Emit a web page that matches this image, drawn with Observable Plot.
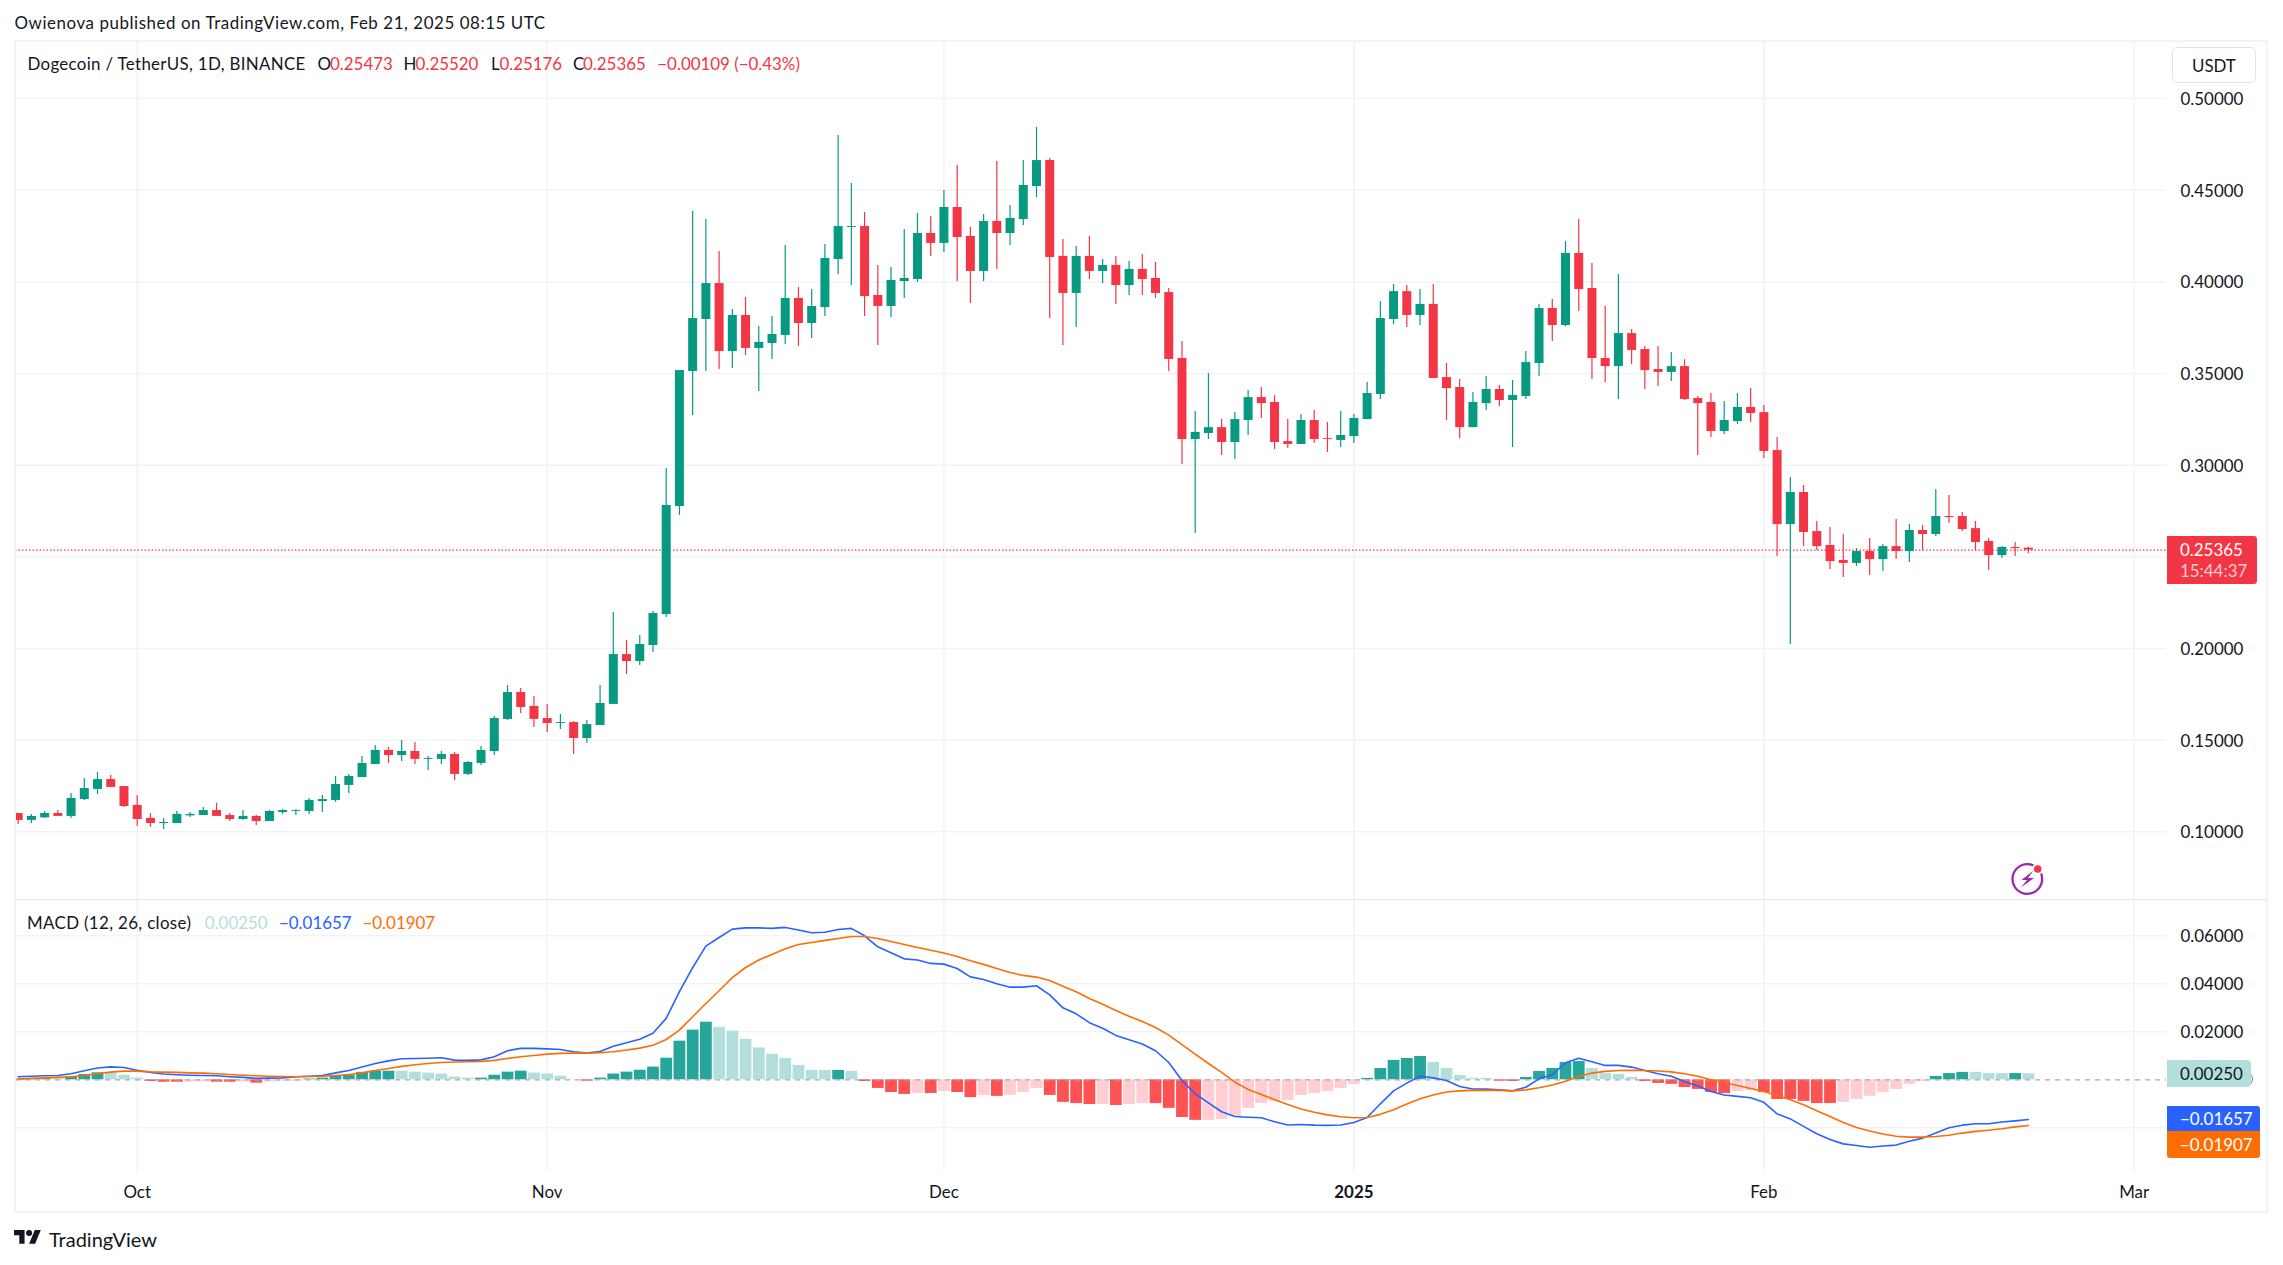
<!DOCTYPE html>
<html>
<head>
<meta charset="utf-8">
<script src="https://cdn.jsdelivr.net/npm/d3@7"></script>
<script src="https://cdn.jsdelivr.net/npm/@observablehq/plot@0.6"></script>
<style>
html,body{margin:0;padding:0;background:#fff;width:2283px;height:1265px;overflow:hidden;font-family:Lato,"Noto Sans",sans-serif;}
svg{position:absolute;background:transparent;}
.t{position:absolute;white-space:pre;transform:translateY(-50%);line-height:1;font-size:16.9px;color:#131722;}
.box{position:absolute;box-sizing:border-box;}
</style>
</head>
<body>
<script>
const startDate = Date.UTC(2024, 8, 22);
const opens = [
.1100,.1062,.1076,.1100,.1084,.1176,.1231,.1285,.1247,.1144,
.1073,.1045,.1045,.1087,.1089,.1116,.1089,.1067,.1084,.1056,
.1105,.1111,.1111,.1165,.1171,.1253,.1296,.1367,.1444,.1416,
.1438,.1395,.1395,.1422,.1313,.1373,.1438,.1613,.1760,.1684,
.1618,.1591,.1596,.1509,.1580,.1695,.1967,.1929,.2016,.2185,
.2775,.3511,.3795,.3991,.3620,.3817,.3637,.3664,.3708,.3910,
.3773,.3860,.4122,.4297,.4302,.3926,.3866,.4002,.4013,.4264,
.4210,.4406,.4248,.4057,.4330,.4264,.4340,.4520,.4662,.4139,
.3937,.4139,.4057,.4090,.3980,.4068,.4019,.3942,.3582,.3140,
.3173,.3205,.3124,.3244,.3369,.3342,.3129,.3113,.3244,.3145,
.3135,.3156,.3249,.3386,.3795,.3947,.3817,.3877,.3478,.3424,
.3205,.3336,.3413,.3353,.3375,.3555,.3855,.3762,.4155,.3964,
.3582,.3538,.3718,.3631,.3522,.3506,.3538,.3364,.3342,.3184,
.3238,.3315,.3287,.3080,.2676,.2851,.2638,.2562,.2480,.2464,
.2529,.2485,.2556,.2529,.2644,.2622,.2720,.2720,.2654,.2584,
.2507,.2551,.25473];
const highs = [
.1100,.1095,.1111,.1116,.1209,.1291,.1324,.1307,.1247,.1198,
.1100,.1073,.1111,.1105,.1133,.1155,.1100,.1116,.1089,.1116,
.1122,.1120,.1182,.1198,.1302,.1313,.1411,.1471,.1460,.1498,
.1487,.1411,.1438,.1433,.1384,.1465,.1629,.1798,.1782,.1738,
.1695,.1640,.1602,.1607,.1798,.2197,.2044,.2071,.2202,.2982,
.3516,.4384,.4340,.4166,.3849,.3915,.3757,.3811,.4199,.3970,
.3959,.4204,.4799,.4537,.4379,.4090,.4079,.4286,.4373,.4357,
.4499,.4635,.4297,.4368,.4657,.4417,.4662,.4842,.4673,.4231,
.4193,.4248,.4122,.4139,.4111,.4150,.4106,.3964,.3675,.3293,
.3500,.3249,.3287,.3407,.3424,.3380,.3249,.3276,.3298,.3233,
.3293,.3276,.3451,.3893,.3986,.3980,.3958,.3986,.3555,.3467,
.3396,.3484,.3435,.3462,.3620,.3877,.3904,.4220,.4340,.4100,
.3866,.4040,.3740,.3647,.3647,.3615,.3576,.3375,.3391,.3347,
.3391,.3418,.3326,.3151,.2933,.2889,.2693,.2660,.2622,.2545,
.2600,.2567,.2704,.2676,.2671,.2867,.2835,.2742,.2693,.2600,
.2556,.2578,.25520];
const lows = [
.1040,.1045,.1073,.1084,.1073,.1171,.1204,.1242,.1133,.1029,
.1024,.1013,.1045,.1078,.1089,.1084,.1056,.1062,.1035,.1056,
.1095,.1089,.1095,.1105,.1160,.1209,.1296,.1367,.1373,.1384,
.1367,.1335,.1367,.1280,.1307,.1362,.1416,.1607,.1646,.1569,
.1542,.1558,.1422,.1482,.1580,.1695,.1858,.1907,.1978,.2169,
.2726,.3271,.3511,.3522,.3528,.3598,.3402,.3577,.3659,.3648,
.3691,.3811,.4040,.3980,.3811,.3653,.3806,.3910,.3997,.4139,
.4161,.4002,.3882,.4002,.4068,.4199,.4308,.4460,.3800,.3653,
.3751,.4013,.3991,.3877,.3926,.3926,.3910,.3511,.3004,.2627,
.3140,.3053,.3031,.3162,.3255,.3085,.3091,.3113,.3118,.3069,
.3096,.3118,.3249,.3358,.3767,.3751,.3762,.3473,.3244,.3145,
.3205,.3298,.3320,.3096,.3358,.3484,.3675,.3756,.3838,.3467,
.3451,.3358,.3549,.3413,.3429,.3456,.3353,.3053,.3151,.3167,
.3222,.3233,.3036,.2502,.2022,.2556,.2534,.2431,.2387,.2447,
.2398,.2420,.2485,.2469,.2534,.2611,.2682,.2638,.2534,.2425,
.2491,.2502,.25176];
const closes = [
.1062,.1084,.1100,.1084,.1182,.1236,.1285,.1242,.1138,.1067,
.1045,.1051,.1095,.1095,.1116,.1084,.1067,.1084,.1056,.1111,
.1116,.1116,.1171,.1176,.1258,.1302,.1373,.1444,.1416,.1438,
.1395,.1400,.1422,.1313,.1378,.1444,.1618,.1760,.1678,.1613,
.1591,.1596,.1509,.1585,.1700,.1967,.1929,.2022,.2191,.2780,
.3516,.3800,.3991,.3620,.3817,.3637,.3670,.3713,.3910,.3773,
.3866,.4128,.4302,.4302,.3920,.3866,.4008,.4019,.4264,.4210,
.4406,.4242,.4057,.4330,.4264,.4346,.4526,.4662,.4133,.3937,
.4139,.4057,.4090,.3980,.4068,.4013,.3937,.3577,.3140,.3179,
.3205,.3124,.3249,.3369,.3336,.3124,.3113,.3244,.3140,.3140,
.3162,.3255,.3391,.3800,.3947,.3817,.3877,.3473,.3418,.3205,
.3342,.3413,.3353,.3380,.3560,.3855,.3762,.4155,.3958,.3582,
.3538,.3718,.3626,.3516,.3506,.3538,.3358,.3336,.3184,.3244,
.3315,.3282,.3075,.2676,.2851,.2633,.2556,.2474,.2464,.2529,
.2485,.2556,.2529,.2644,.2622,.2720,.2714,.2649,.2578,.2507,
.2551,.2545,.25365];
const histValues = [
.0003,.0004,.0005,.0004,.0012,.0022,.0029,.0026,.0019,.0007,
-.0007,-.0010,-.0010,-.0010,-.0009,-.0010,-.0010,-.0009,-.0014,-.0009,
-.0006,-.0006,.0003,.0007,.0015,.0019,.0031,.0036,.0036,.0036,
.0032,.0028,.0024,.0011,.0007,.0007,.0019,.0032,.0036,.0028,
.0024,.0015,.0001,-.0006,.0007,.0024,.0032,.0040,.0053,.0090,
.0161,.0207,.0240,.0219,.0203,.0169,.0133,.0106,.0089,.0060,
.0039,.0039,.0039,.0035,-.0007,-.0036,-.0053,-.0061,-.0057,-.0057,
-.0049,-.0053,-.0074,-.0065,-.0069,-.0065,-.0053,-.0036,-.0065,-.0094,
-.0099,-.0103,-.0103,-.0107,-.0103,-.0099,-.0099,-.0119,-.0157,-.0169,
-.0169,-.0165,-.0153,-.0119,-.0099,-.0090,-.0086,-.0065,-.0057,-.0049,
-.0036,-.0019,.0006,.0047,.0081,.0089,.0097,.0072,.0047,.0018,
.0006,.0006,-.0006,-.0007,.0010,.0035,.0047,.0072,.0076,.0047,
.0026,.0022,.0010,-.0007,-.0015,-.0019,-.0032,-.0040,-.0053,-.0057,
-.0049,-.0044,-.0053,-.0082,-.0082,-.0090,-.0099,-.0099,-.0094,-.0082,
-.0069,-.0053,-.0040,-.0019,-.0007,.0014,.0026,.0031,.0031,.0026,
.0026,.0026,.00250];
const histKinds = "DDDLDDDLLLRRRPPRRPRPPPDDDDDDDLLLLLLDDDDLLLLRDDDDDDDDDLLLLLLLLLDLRRRRPRPRRPRPPPRRRRPRPPRRRRPPPPPPPPPPPPDDDDDLLLLLRRDDDDDLLLLRRRRRRRPPRRRRRRPPPPPPPDDDLLLDL";
const macdValues = [
.0013,.0015,.0017,.0018,.0025,.0038,.0049,.0054,.0051,.0040,
.0031,.0024,.0021,.0019,.0018,.0017,.0013,.0010,.0006,.0007,
.0008,.0013,.0015,.0018,.0029,.0039,.0053,.0068,.0079,.0088,
.0089,.0090,.0092,.0082,.0081,.0083,.0096,.0121,.0131,.0131,
.0129,.0126,.0117,.0111,.0118,.0140,.0154,.0169,.0194,.0256,
.0367,.0467,.0557,.0593,.0628,.0633,.0633,.0631,.0635,.0624,
.0613,.0615,.0626,.0631,.0600,.0554,.0529,.0504,.0499,.0485,
.0482,.0464,.0429,.0418,.0400,.0386,.0386,.0392,.0354,.0300,
.0275,.0238,.0215,.0185,.0167,.0149,.0121,.0072,-.0003,-.0058,
-.0096,-.0133,-.0153,-.0156,-.0158,-.0175,-.0188,-.0186,-.0189,-.0190,
-.0188,-.0178,-.0157,-.0100,-.0046,-.0014,.0015,.0008,-.0003,-.0028,
-.0038,-.0039,-.0042,-.0046,-.0031,.0004,.0021,.0071,.0090,.0075,
.0060,.0060,.0053,.0039,.0025,.0015,-.0007,-.0026,-.0049,-.0063,
-.0069,-.0075,-.0094,-.0142,-.0163,-.0194,-.0225,-.0249,-.0267,-.0274,
-.0281,-.0276,-.0272,-.0256,-.0243,-.0222,-.0200,-.0189,-.0183,-.0183,
-.0176,-.0171,-.01657];
const signalValues = [
.0003,.0006,.0008,.0010,.0013,.0018,.0026,.0032,.0036,.0036,
.0033,.0032,.0031,.0029,.0028,.0025,.0022,.0019,.0017,.0015,
.0014,.0013,.0014,.0015,.0018,.0022,.0029,.0039,.0047,.0056,
.0063,.0068,.0072,.0074,.0075,.0076,.0081,.0089,.0096,.0101,
.0107,.0110,.0111,.0111,.0113,.0117,.0124,.0132,.0144,.0168,
.0207,.0263,.0318,.0371,.0426,.0468,.0499,.0522,.0546,.0564,
.0572,.0581,.0589,.0597,.0597,.0589,.0576,.0564,.0551,.0540,
.0528,.0514,.0496,.0481,.0464,.0447,.0435,.0428,.0414,.0390,
.0367,.0339,.0315,.0289,.0265,.0243,.0218,.0186,.0147,.0107,
.0068,.0031,-.0010,-.0040,-.0061,-.0083,-.0103,-.0122,-.0135,-.0146,
-.0154,-.0158,-.0157,-.0144,-.0125,-.0101,-.0079,-.0063,-.0051,-.0046,
-.0044,-.0043,-.0044,-.0046,-.0042,-.0033,-.0022,-.0006,.0014,.0028,
.0035,.0039,.0040,.0039,.0037,.0033,.0025,.0015,.0000,-.0011,
-.0024,-.0036,-.0049,-.0065,-.0083,-.0104,-.0129,-.0153,-.0178,-.0199,
-.0213,-.0226,-.0235,-.0239,-.0239,-.0236,-.0231,-.0222,-.0215,-.0210,
-.0204,-.0196,-.01907];
const priceTicks = [.10,.15,.20,.30,.35,.40,.45,.50];
const priceGridTicks = [.10,.15,.20,.25,.30,.35,.40,.45,.50];
const macdTicks = [.06,.04,.02];
const macdGridTicks = [.06,.04,.02,-.02];
const lastPrice = .25365;
const monthLabels = [["2024-10-01","Oct"],["2024-11-01","Nov"],["2024-12-01","Dec"],["2025-02-01","Feb"],["2025-03-01","Mar"]];
const yearLabels = [["2025-01-01","2025"]];

const GREEN="#089981", RED="#F23645", GRID="#f1f3f7", INK="#131722", FONT='Lato,"Noto Sans",sans-serif';
const histColors={D:"#26A69A",L:"#B2DFDB",R:"#FF5252",P:"#FFCDD2"};
const DAY=864e5, oct1=Date.UTC(2024,9,1), PXDAY=13.225;
const xDomain=[new Date(oct1+(15-136.7)/PXDAY*DAY), new Date(oct1+(2166-136.7)/PXDAY*DAY)];
const date=i=>new Date(startDate+i*DAY);
const candles=d3.range(opens.length).map(i=>({date:date(i),o:opens[i],h:highs[i],l:lows[i],c:closes[i],color:closes[i]>=opens[i]?GREEN:RED}));
const macd=d3.range(macdValues.length).map(i=>({date:date(i),m:macdValues[i],s:signalValues[i],h:histValues[i],color:histColors[histKinds[i]]}));
const months=[...monthLabels,...yearLabels].map(d=>new Date(d[0]));

const top1=Plot.plot({
  width:2283,height:859,marginTop:0,marginBottom:0,marginLeft:15,marginRight:117,
  x:{type:"utc",domain:xDomain,axis:null},
  y:{domain:[.06307,.5317],axis:null},
  style:{background:"transparent",overflow:"visible",fontFamily:FONT,color:INK},
  marks:[
    Plot.ruleY(priceGridTicks,{stroke:GRID,strokeWidth:1.5}),
    Plot.ruleX(months,{stroke:GRID,strokeWidth:1.5}),
    Plot.ruleY([lastPrice],{stroke:RED,strokeWidth:1.3,strokeDasharray:"1.5,2"}),
    Plot.ruleX(candles,{x:"date",y1:"l",y2:"h",stroke:"color",strokeWidth:1.2,clip:true}),
    Plot.ruleX(candles,{x:"date",y1:"o",y2:"c",stroke:"color",strokeWidth:9,clip:true}),
    Plot.axisY(priceTicks,{anchor:"right",tickSize:0,tickPadding:14,dy:1,tickFormat:d=>d.toFixed(5),fontSize:16.9,fill:INK})
  ]
});
top1.style.left="0";top1.style.top="40px";
document.body.appendChild(top1);

const pane2=Plot.plot({
  width:2283,height:313,marginTop:0,marginBottom:42,marginLeft:15,marginRight:117,
  x:{type:"utc",domain:xDomain,axis:null},
  y:{domain:[-.03779,.07513],axis:null},
  style:{background:"transparent",overflow:"visible",fontFamily:FONT,color:INK},
  marks:[
    Plot.ruleY(macdGridTicks,{stroke:GRID,strokeWidth:1.5}),
    Plot.ruleX(months,{stroke:GRID,strokeWidth:1.5}),
    Plot.ruleX(macd,{x:"date",y1:0,y2:"h",stroke:"color",strokeWidth:11.8,clip:true}),
    Plot.ruleY([0],{stroke:"#a8abb5",strokeWidth:1.2,strokeDasharray:"5,5"}),
    Plot.line(macd,{x:"date",y:"m",stroke:"#2962FF",strokeWidth:1.6,clip:true}),
    Plot.line(macd,{x:"date",y:"s",stroke:"#FF6D00",strokeWidth:1.6,clip:true}),
    Plot.axisY(macdTicks,{anchor:"right",tickSize:0,tickPadding:14,dy:1,tickFormat:d=>d.toFixed(5),fontSize:16.9,fill:INK}),
    Plot.axisX(monthLabels.map(d=>new Date(d[0])),{tickSize:0,tickPadding:15,tickFormat:d=>monthLabels.find(m=>+new Date(m[0])===+d)[1],fontSize:16.9,fill:INK}),
    Plot.axisX(yearLabels.map(d=>new Date(d[0])),{tickSize:0,tickPadding:15,tickFormat:()=>yearLabels[0][1],fontSize:16.9,fontWeight:700,fill:INK})
  ]
});
pane2.style.left="0";pane2.style.top="899px";
document.body.appendChild(pane2);

function box(x,y,w,h,css){const d=document.createElement("div");d.className="box";d.style.cssText+=`left:${x}px;top:${y}px;width:${w}px;height:${h}px;${css||""}`;document.body.appendChild(d);return d;}
function put(s,x,y,color,css){const d=document.createElement("div");d.className="t";d.textContent=s;d.style.left=x+"px";d.style.top=y+"px";if(color)d.style.color=color;if(css)d.style.cssText+=css;document.body.appendChild(d);return d;}

// frame
box(14,39.5,2254,1173,"border:2px solid #f0f3fa;");
box(15,898.6,2252,2,"border-top:1.6px solid #e0e3eb;");

// header
put("Owienova published on TradingView.com, Feb 21, 2025 08:15 UTC",14.5,23,INK,"letter-spacing:.57px;");
put("Dogecoin / TetherUS, 1D, BINANCE",27.5,64,INK,"letter-spacing:.32px;");
[["O","0.25473",317.5,330],["H","0.25520",403.5,415.6],["L","0.25176",491,499.4],["C","0.25365",573,583]].forEach(a=>{put(a[0],a[2],64,INK);put(a[1],a[3],64,RED);});
put("\u22120.00109 (\u22120.43%)",657.3,64,RED);

// macd legend
put("MACD (12, 26, close)",27,923,INK,"letter-spacing:.35px;");
put("0.00250",204.8,923,"#B2DFDB");
put("\u22120.01657",279,923,"#2962FF");
put("\u22120.01907",362.5,923,"#FF6D00");

// USDT box
box(2172,47,84,36,"border:1px solid #e0e3eb;border-radius:5px;");
put("USDT",2192,65.5,INK);

// price tag
box(2167,536,89.5,47.5,`background:${RED};border-radius:0 3px 3px 0;`);
put("0.25365",2180,549.5,"#fff");
put("15:44:37",2180,570.5,"rgba(255,255,255,.75)");

// MACD tags
box(2167,1072,85.5,14,"border-right:1px solid #787b86;border-radius:0 7px 7px 0;");
box(2167,1060,84,26.7,"background:#B2DFDB;border-radius:0 4px 4px 0;");
put("0.00250",2180,1073.5,INK);
box(2167,1106,93,25.4,"background:#2962FF;border-radius:0 3px 0 0;");
put("\u22120.01657",2180,1119,"#fff");
box(2167,1131.4,93,26.6,"background:#FF6D00;border-radius:0 0 3px 3px;");
put("\u22120.01907",2180,1144.5,"#fff");

// bolt icon + TradingView logo
const icons=document.createElement("div");
icons.innerHTML=`
<svg style="left:2008px;top:860px" width="40" height="38" viewBox="0 0 40 38">
 <circle cx="19.3" cy="19" r="14.8" fill="none" stroke="#9C27B0" stroke-width="2.3"/>
 <path d="M25.5 10.5 L13.5 20 L19 20 L13 27.5 L26 18 L20 18 Z" fill="#9C27B0"/>
 <circle cx="29.7" cy="9" r="5.6" fill="#fff"/>
 <circle cx="29.7" cy="9" r="3.8" fill="#F23645"/>
</svg>
<svg style="left:14.3px;top:1227px" width="27.2" height="21.2" viewBox="0 0 36 28">
 <path d="M14 22H7V11H0V4h14v18zM28 22h-8l7.5-18h8L28 22z" fill="#131722"/><circle cx="20" cy="8" r="4" fill="#131722"/>
</svg>`;
document.body.appendChild(icons);
put("TradingView",49,1239,INK,"font-size:20px;");
</script>
</body>
</html>
